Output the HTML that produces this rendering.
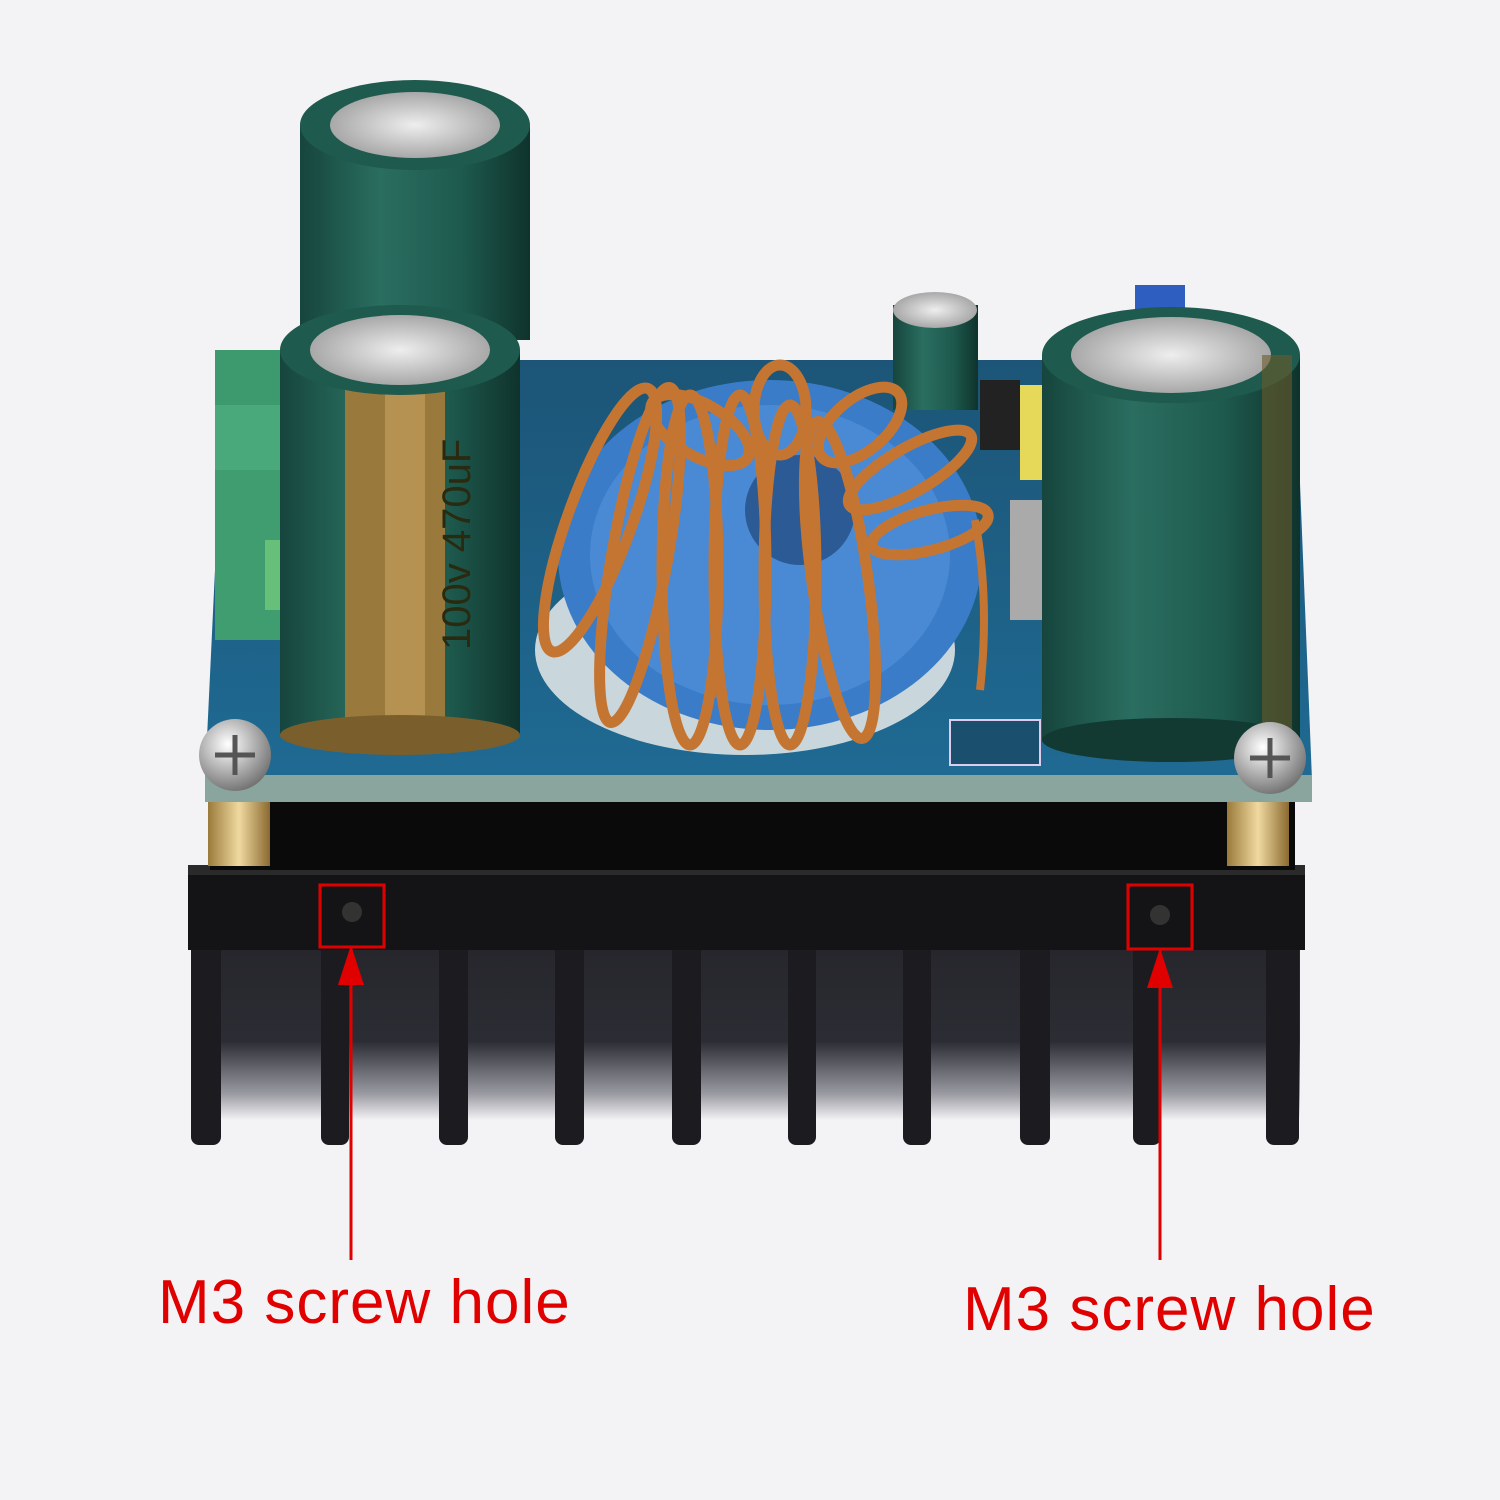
<!DOCTYPE html>
<html><head><meta charset="utf-8"><style>
html,body{margin:0;padding:0;background:#f3f3f5;}
svg{display:block}
text{font-family:"Liberation Sans",sans-serif}
</style></head><body>
<svg width="1500" height="1500" viewBox="0 0 1500 1500" xmlns="http://www.w3.org/2000/svg">
<defs>
<linearGradient id="cap" x1="0" x2="1"><stop offset="0" stop-color="#16453d"/><stop offset="0.35" stop-color="#2a6e60"/><stop offset="0.7" stop-color="#1e5a4e"/><stop offset="1" stop-color="#0f332c"/></linearGradient>
<linearGradient id="brass" x1="0" x2="1"><stop offset="0" stop-color="#9a7a3a"/><stop offset="0.5" stop-color="#f0d9a0"/><stop offset="1" stop-color="#8a6a30"/></linearGradient>
<radialGradient id="top" cx="0.5" cy="0.5" r="0.6"><stop offset="0" stop-color="#eeeeee"/><stop offset="1" stop-color="#9a9a9a"/></radialGradient>
<radialGradient id="screw" cx="0.4" cy="0.35" r="0.7"><stop offset="0" stop-color="#ffffff"/><stop offset="1" stop-color="#6d6d6d"/></radialGradient>
<linearGradient id="pcb" x1="0" y1="0" x2="0" y2="1"><stop offset="0" stop-color="#1c5577"/><stop offset="1" stop-color="#1f6a93"/></linearGradient>
<linearGradient id="gap" x1="0" y1="0" x2="0" y2="1"><stop offset="0" stop-color="#26262c"/><stop offset="0.55" stop-color="#2c2c34"/><stop offset="0.85" stop-color="#9a9aa2"/><stop offset="1" stop-color="#f3f3f5"/></linearGradient>
</defs>
<rect width="1500" height="1500" fill="#f3f3f5"/>

<!-- heatsink gaps -->
<rect x="195" y="945" width="1105" height="175" fill="url(#gap)"/>
<!-- fins -->
<g fill="#1c1c20">
<rect x="191" y="930" width="30" height="215" rx="8"/>
<rect x="321" y="930" width="28" height="215" rx="8"/>
<rect x="439" y="930" width="29" height="215" rx="8"/>
<rect x="555" y="930" width="29" height="215" rx="8"/>
<rect x="672" y="930" width="29" height="215" rx="8"/>
<rect x="788" y="930" width="28" height="215" rx="8"/>
<rect x="903" y="930" width="28" height="215" rx="8"/>
<rect x="1020" y="930" width="30" height="215" rx="8"/>
<rect x="1133" y="930" width="28" height="215" rx="8"/>
<rect x="1266" y="930" width="33" height="215" rx="8"/>
</g>
<!-- heatsink top body -->
<rect x="188" y="865" width="1117" height="85" fill="#141416"/>
<rect x="188" y="865" width="1117" height="10" fill="#2a2a2a"/>
<!-- gap under pcb -->
<rect x="210" y="795" width="1085" height="75" fill="#0a0a0a"/>
<!-- standoffs -->
<rect x="208" y="800" width="62" height="66" fill="url(#brass)"/>
<rect x="1227" y="800" width="62" height="66" fill="url(#brass)"/>

<!-- PCB -->
<polygon points="225,360 1295,360 1312,780 205,780" fill="url(#pcb)"/>
<polygon points="205,775 1312,775 1312,802 205,802" fill="#8aa49e"/>
<!-- green terminals -->
<rect x="215" y="350" width="80" height="95" fill="#3d9a6e"/>
<rect x="215" y="405" width="80" height="70" fill="#4aa97a"/>
<rect x="215" y="470" width="80" height="170" fill="#3f9d70"/>
<rect x="265" y="540" width="25" height="70" fill="#66c07a"/>
<!-- white circle -->
<ellipse cx="745" cy="650" rx="210" ry="105" fill="#c9d7dc"/>
<!-- small cap -->
<rect x="893" y="305" width="85" height="105" fill="url(#cap)"/>
<ellipse cx="935" cy="310" rx="42" ry="18" fill="url(#top)"/>
<!-- right side chips -->
<rect x="1020" y="385" width="45" height="95" fill="#e6d95a"/>
<rect x="1010" y="500" width="50" height="120" fill="#aaa"/>
<rect x="980" y="380" width="40" height="70" fill="#222"/>
<rect x="950" y="720" width="90" height="45" fill="#1a4f6e" stroke="#dce" stroke-width="2"/>
<!-- blue pot -->
<rect x="1135" y="285" width="50" height="45" fill="#2e5fc0"/>

<!-- back-left cap -->
<rect x="300" y="125" width="230" height="215" fill="url(#cap)"/>
<ellipse cx="415" cy="125" rx="115" ry="45" fill="#1e5a4e"/>
<ellipse cx="415" cy="125" rx="85" ry="33" fill="url(#top)"/>

<!-- right cap -->
<rect x="1042" y="355" width="258" height="385" fill="url(#cap)"/>
<ellipse cx="1171" cy="740" rx="129" ry="22" fill="#123a33"/>
<ellipse cx="1171" cy="355" rx="129" ry="48" fill="#1e5a4e"/>
<ellipse cx="1171" cy="355" rx="100" ry="38" fill="url(#top)"/>
<rect x="1262" y="355" width="30" height="380" fill="#6a5a2a" opacity="0.6"/>

<!-- front-left cap -->
<rect x="280" y="350" width="240" height="385" fill="url(#cap)"/>
<rect x="345" y="350" width="100" height="385" fill="#9a7a3c"/>
<rect x="385" y="350" width="40" height="385" fill="#c8a060" opacity="0.6"/>
<ellipse cx="400" cy="735" rx="120" ry="20" fill="#7a5f2c"/>
<ellipse cx="400" cy="350" rx="120" ry="45" fill="#1e5a4e"/>
<ellipse cx="400" cy="350" rx="90" ry="35" fill="url(#top)"/>
<text x="470" y="650" fill="#2a2a10" font-size="40" transform="rotate(-90 470 650)">100v 470uF</text>

<!-- toroid -->
<ellipse cx="770" cy="555" rx="212" ry="175" fill="#3a7cc8"/>
<ellipse cx="770" cy="555" rx="180" ry="150" fill="#4a8ad4"/>
<ellipse cx="800" cy="510" rx="55" ry="55" fill="#2b5a95"/>
<g fill="none" stroke="#c57532" stroke-width="11">
<ellipse cx="600" cy="520" rx="32" ry="140" transform="rotate(20 600 520)"/>
<ellipse cx="640" cy="555" rx="28" ry="170" transform="rotate(10 640 555)"/>
<ellipse cx="690" cy="570" rx="28" ry="175"/>
<ellipse cx="740" cy="570" rx="26" ry="175"/>
<ellipse cx="790" cy="575" rx="26" ry="170"/>
<ellipse cx="840" cy="580" rx="28" ry="160" transform="rotate(-8 840 580)"/>
<ellipse cx="700" cy="430" rx="26" ry="55" transform="rotate(-60 700 430)"/>
<ellipse cx="780" cy="410" rx="26" ry="45"/>
<ellipse cx="860" cy="425" rx="26" ry="50" transform="rotate(50 860 425)"/>
<ellipse cx="910" cy="470" rx="22" ry="70" transform="rotate(60 910 470)"/>
<ellipse cx="930" cy="530" rx="20" ry="60" transform="rotate(75 930 530)"/>
</g>
<path d="M975 520 Q990 600 980 690" stroke="#c57532" stroke-width="8" fill="none"/>

<!-- screws -->
<circle cx="235" cy="755" r="36" fill="url(#screw)"/>
<path d="M215 755 H255 M235 735 V775" stroke="#555" stroke-width="5"/>
<circle cx="1270" cy="758" r="36" fill="url(#screw)"/>
<path d="M1250 758 H1290 M1270 738 V778" stroke="#555" stroke-width="5"/>

<!-- screw holes -->
<circle cx="352" cy="912" r="10" fill="#333"/>
<circle cx="1160" cy="915" r="10" fill="#333"/>

<!-- red boxes and arrows -->
<g stroke="#e00000" stroke-width="3" fill="none">
<rect x="320" y="885" width="64" height="62"/>
<rect x="1128" y="885" width="64" height="64"/>
<line x1="351" y1="970" x2="351" y2="1260"/>
<line x1="1160" y1="972" x2="1160" y2="1260"/>
</g>
<polygon points="351,945 338,985 364,985" fill="#e00000"/>
<polygon points="1160,948 1147,988 1173,988" fill="#e00000"/>
<text x="158" y="1323" fill="#e00000" font-size="62" letter-spacing="1">M3 screw hole</text>
<text x="963" y="1330" fill="#e00000" font-size="62" letter-spacing="1">M3 screw hole</text>
</svg>
</body></html>
